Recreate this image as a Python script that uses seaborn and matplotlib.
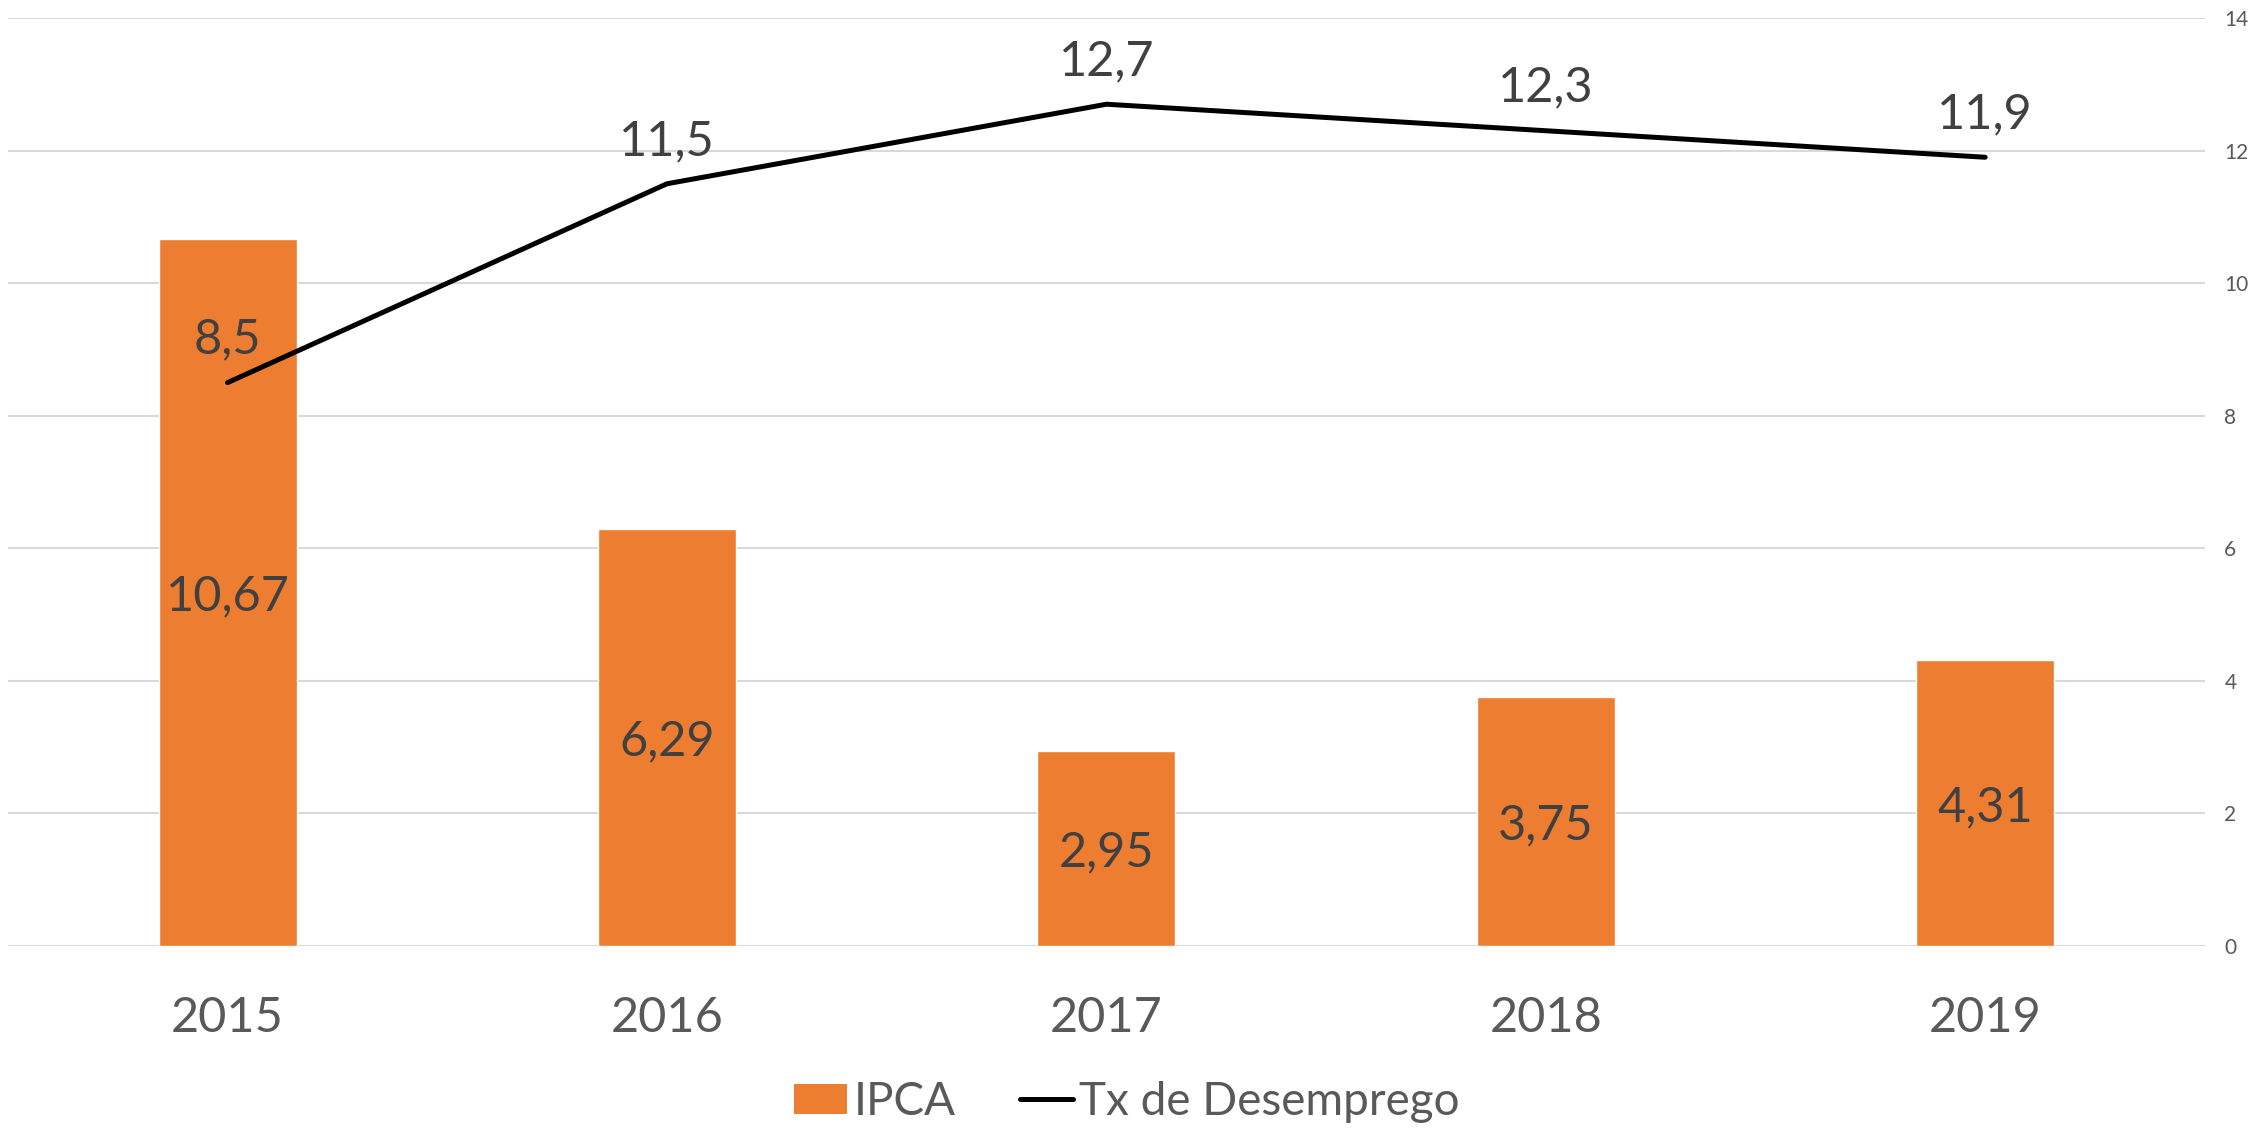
import numpy as np
import pandas as pd
import matplotlib
matplotlib.use("Agg")
import matplotlib.pyplot as plt
import seaborn as sns
from matplotlib.patches import Patch
from matplotlib.lines import Line2D

anos = ["2015", "2016", "2017", "2018", "2019"]
ipca = [10.67, 6.29, 2.95, 3.75, 4.31]
desemprego = [8.5, 11.5, 12.7, 12.3, 11.9]
yticks = [0, 2, 4, 6, 8, 10, 12, 14]

laranja = "#ED7D31"
cinza_txt = "#595959"
cinza_lbl = "#404040"
cinza_grid = "#D9D9D9"

sns.set_style("white")
plt.rcParams["font.family"] = ["Lato", "DejaVu Sans"]

df = pd.DataFrame({"ano": anos, "ipca": ipca, "desemprego": desemprego})

fig = plt.figure(figsize=(22.54, 11.28), dpi=100)
ax = fig.add_axes([0.0035, 0.1613, 0.9747, 0.8227])

sns.barplot(data=df, x="ano", y="ipca", color=laranja, saturation=1,
            width=0.314, ax=ax, zorder=2)
sns.lineplot(data=df, x="ano", y="desemprego", color="black", linewidth=3.6,
             ax=ax, zorder=3, sort=False)

ax.set_ylim(0, 14)
ax.set_xlim(-0.5, 4.5)
ax.set_yticks(yticks)
ax.yaxis.tick_right()
ax.tick_params(axis="y", labelsize=15, colors=cinza_txt, length=0, pad=14)
ax.tick_params(axis="x", labelsize=35, colors=cinza_txt, length=0, pad=36)
ax.grid(axis="y", color=cinza_grid, linewidth=1.5, zorder=0)
ax.set_axisbelow(True)
for s in ax.spines.values():
    s.set_visible(False)
ax.set_xlabel("")
ax.set_ylabel("")

# rótulos no formato brasileiro (vírgula decimal)
fmt = lambda v: f"{v:g}".replace(".", ",")
for i, v in enumerate(ipca):
    ax.text(i, v / 2, fmt(v), ha="center", va="center_baseline", fontsize=35,
            color=cinza_lbl, zorder=4)
for i, v in enumerate(desemprego):
    ax.annotate(fmt(v), (i, v), xytext=(0, 15), textcoords="offset points",
                ha="center", va="bottom", fontsize=35, color=cinza_lbl, zorder=4)

handles = [Patch(facecolor=laranja, edgecolor="none"),
           Line2D([0], [0], color="black", linewidth=3.6)]
fig.legend(handles, ["IPCA", "Tx de Desemprego"], loc="center", bbox_to_anchor=(0.5, 0.023),
           ncol=2, frameon=False, fontsize=33, labelcolor=cinza_txt,
           handlelength=1.15, handleheight=0.65, handletextpad=0.15, columnspacing=1.4)

fig.savefig("out.png", dpi=100)
